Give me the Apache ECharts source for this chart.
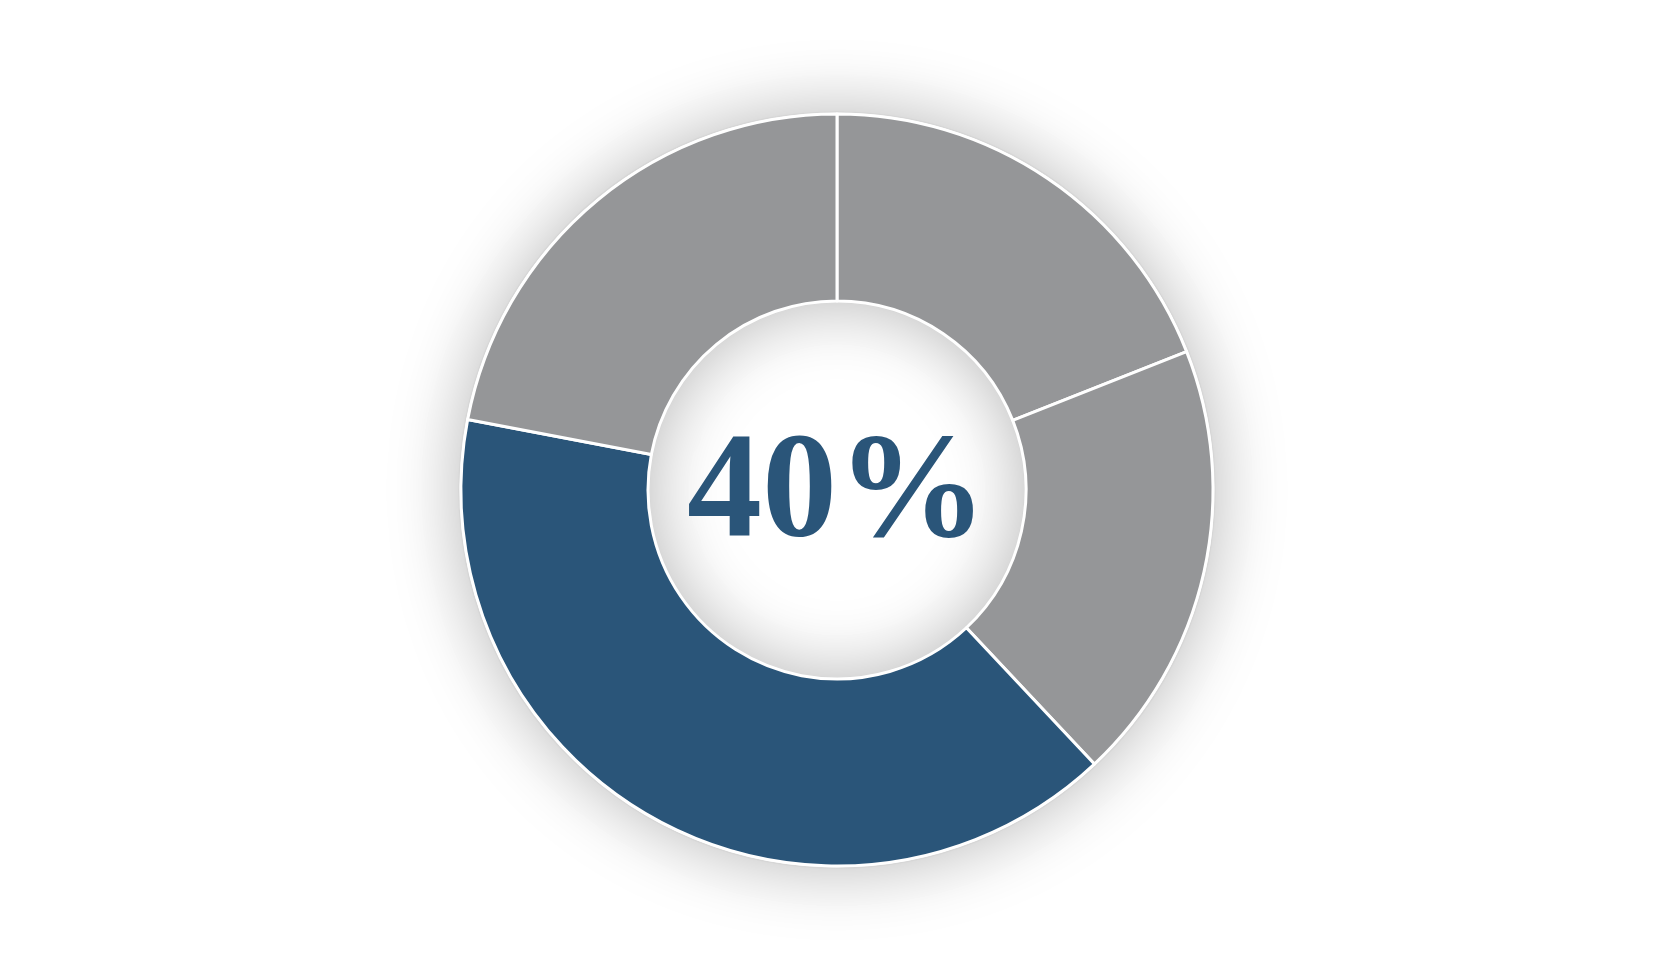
<!DOCTYPE html>
<html>
<head>
<meta charset="utf-8">
<title>40%</title>
<script src="https://cdn.jsdelivr.net/npm/echarts@6/dist/echarts.min.js"></script>
<style>
  html, body { margin: 0; padding: 0; background: #fff; }
  #chart { width: 1674px; height: 980px; }
</style>
</head>
<body>
<div id="chart"></div>
<script>
// segments, clockwise from 12 o'clock
const segmentNames = ['Part 1', 'Part 2', 'Highlight', 'Part 4'];
const segmentValues = [19, 19, 40, 22];
const segmentColors = ['#959698', '#959698', '#2a5579', '#959698'];
const centerLabel = '40%';

const chart = echarts.init(document.getElementById('chart'));

const option = {
    backgroundColor: '#ffffff',
    animation: false,
    series: [
        {
            // shadow ring underneath
            name: 'backdrop',
            type: 'pie',
            silent: true,
            center: [837, 490],
            radius: [188, 378],
            label: { show: false },
            labelLine: { show: false },
            itemStyle: {
                color: '#ffffff',
                borderColor: '#d6d6d6',
                borderWidth: 1.5,
                shadowBlur: 70,
                shadowColor: 'rgba(0,0,0,0.28)'
            },
            data: [{ value: 1, name: 'ring' }],
            z: 1
        },
        {
            name: 'share',
            type: 'pie',
            center: [837, 490],
            radius: [189, 376],
            startAngle: 90,
            clockwise: true,
            label: { show: false },
            labelLine: { show: false },
            itemStyle: {
                borderColor: '#ffffff',
                borderWidth: 3
            },
            data: segmentNames.map((n, i) => ({
                name: n,
                value: segmentValues[i],
                itemStyle: { color: segmentColors[i] }
            })),
            z: 2
        }
    ],
    graphic: [
        {
            type: 'text',
            style: {
                text: centerLabel,
                x: 837,
                y: 497,
                align: 'center',
                verticalAlign: 'middle',
                fontFamily: '"Liberation Serif", "Times New Roman", serif',
                fontWeight: 'bold',
                fontSize: 150,
                fill: '#2a5579'
            },
            z: 10
        }
    ]
};

chart.setOption(option);
</script>
</body>
</html>
